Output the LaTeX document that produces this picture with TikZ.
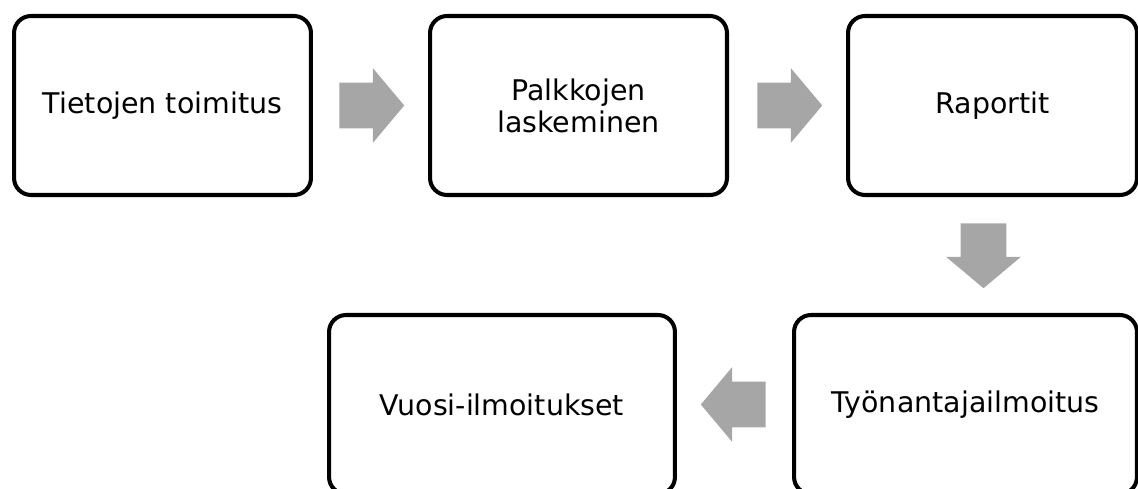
\documentclass[tikz,border=0pt]{standalone}
\usepackage{fontspec}
\setmainfont{DejaVu Sans}
\usetikzlibrary{shapes.arrows}
\definecolor{arrowgray}{HTML}{A6A6A6}
\tikzset{
  stage/.style={draw=black, line width=2.3pt, rounded corners=0.34cm, fill=white,
    align=center, minimum height=3.58cm, inner sep=0pt},
  flowarrow/.style={single arrow, fill=arrowgray, draw=none, inner sep=0.45cm,
    minimum height=1.26cm, anchor=tail,
    single arrow head extend=0.29cm, single arrow tip angle=100}
}
\begin{document}
\begin{tikzpicture}[x=0.02cm,y=-0.02cm,font=\fontsize{16.2}{18.2}\selectfont]

  \useasboundingbox (0,0) rectangle (1138,489);

  \node [stage, minimum width=5.94cm] (tiet) at (162.5,105.5) {Tietojen toimitus};
  \node [stage, minimum width=5.94cm] (palk) at (578.5,105.5) {Palkkojen\\laskeminen};
  \node [stage, minimum width=5.78cm] (rap) at (992.5,105.5) {Raportit};
  \node [stage, minimum width=6.86cm] (tyon) at (965.5,404.5) {Työnantajailmoitus};
  \node [stage, minimum width=6.92cm] (vuosi) at (502,404.5) {Vuosi-ilmoitukset};

  \node [flowarrow] (a1) at ([xshift=0.52cm]tiet.east) {};
  \node [flowarrow] (a2) at ([xshift=0.56cm]palk.east) {};
  \node [flowarrow, shape border rotate=270] (a3) at ([xshift=-0.18cm,yshift=-0.52cm]rap.south) {};
  \node [flowarrow, shape border rotate=180] (a4) at ([xshift=-0.52cm]tyon.west) {};

\end{tikzpicture}
\end{document}
